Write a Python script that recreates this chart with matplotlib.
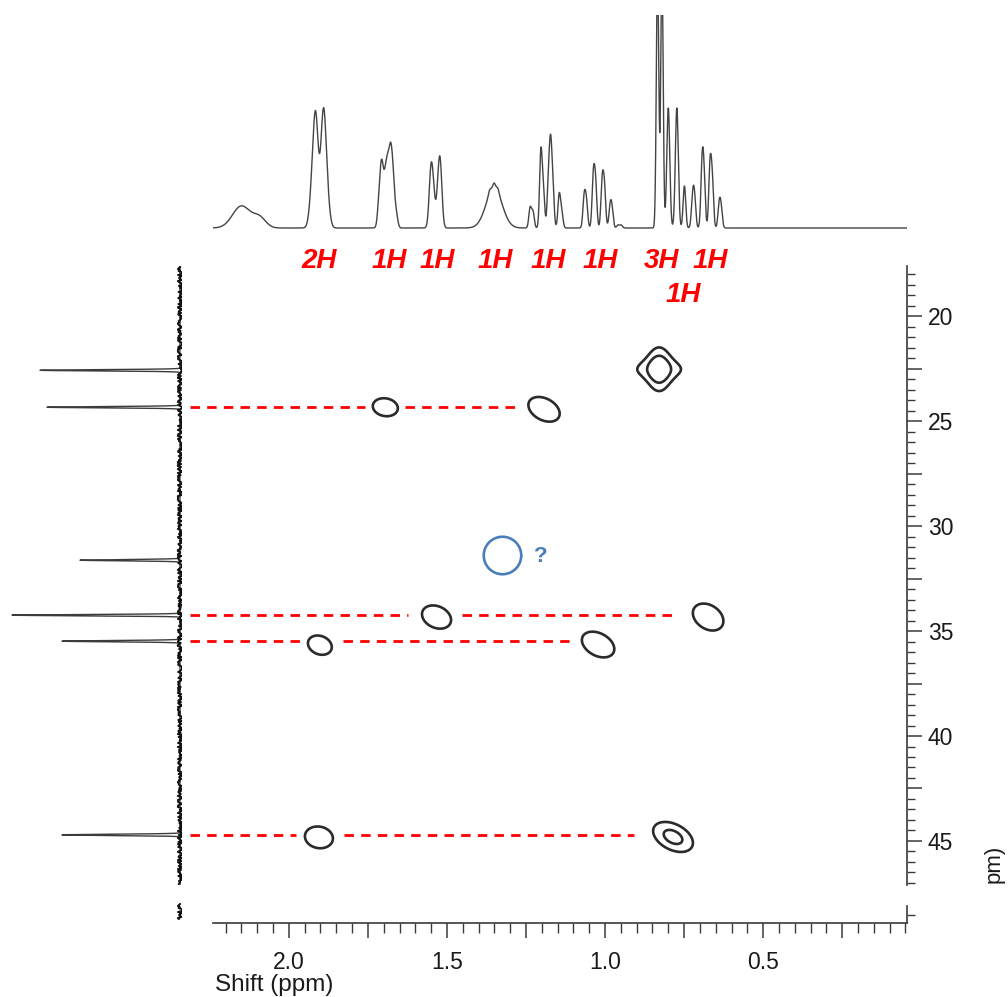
import numpy as np
import matplotlib
matplotlib.use("Agg")
import matplotlib.pyplot as plt
from matplotlib.ticker import MultipleLocator, FuncFormatter
from matplotlib.transforms import blended_transform_factory

plt.rcParams['font.family'] = ['Liberation Sans', 'DejaVu Sans']

# ---------------- data ----------------
# 1H projection (top): line positions (ppm), heights, Gaussian widths (ppm)
h1_ppm = [2.150, 2.093,
          1.927, 1.915, 1.891, 1.879,
          1.714, 1.706, 1.696, 1.688, 1.679, 1.671, 1.661,
          1.551, 1.543, 1.528, 1.521,
          1.351, 1.365, 1.351, 1.339,
          1.237, 1.228, 1.203, 1.195, 1.179, 1.172, 1.165, 1.145, 1.137,
          1.066, 1.059, 1.037, 1.030, 1.009, 1.002, 0.984, 0.978, 0.959, 0.949,
          0.834, 0.820, 0.800, 0.773, 0.749, 0.723, 0.717, 0.693, 0.687,
          0.668, 0.661, 0.639, 0.633]
h1_height = [22, 10,
             30, 105, 110, 25,
             28, 55, 38, 50, 62, 45, 14,
             52, 30, 30, 55,
             40, 4, 5, 4,
             20, 16, 75, 35, 45, 75, 35, 33, 15,
             30, 25, 50, 42, 45, 38, 20, 17, 3, 3,
             260, 260, 120, 120, 42, 28, 28, 60, 45,
             60, 45, 22, 18]
h1_width = [0.028, 0.020,
            0.0082, 0.0082, 0.0082, 0.0082,
            0.0051, 0.0051, 0.0051, 0.0051, 0.0051, 0.0051, 0.0051,
            0.0057, 0.0057, 0.0057, 0.0057,
            0.025, 0.004, 0.004, 0.004,
            0.0041, 0.0041, 0.0041, 0.0041, 0.0041, 0.0041, 0.0041, 0.0041, 0.0041,
            0.0041, 0.0041, 0.0041, 0.0041, 0.0041, 0.0041, 0.0041, 0.0041, 0.0041, 0.0041,
            0.0038, 0.0038, 0.0047, 0.0047, 0.0041, 0.0041, 0.0041, 0.0041, 0.0041,
            0.0041, 0.0041, 0.0041, 0.0041]

# integration labels
int_labels = ["2H", "1H", "1H", "1H", "1H", "1H", "3H", "1H"]
int_label_ppm = [1.905, 1.684, 1.532, 1.348, 1.180, 1.016, 0.823, 0.668]
extra_label = "1H"
extra_label_ppm = 0.753

# 13C projection (left): shifts (ppm) and intensities
c13_ppm = [22.57, 24.33, 31.62, 34.24, 35.48, 44.71]
c13_int = [140, 133, 100, 168, 118, 118]

# HSQC cross peaks: 1H ppm, 13C ppm, amplitude, widths (ppm), tilt correlation
hsqc_h = [1.695, 1.193, 0.829, 0.829, 1.533, 0.674, 1.902, 1.022, 1.905, 0.785]
hsqc_c = [24.33, 24.43, 22.52, 22.52, 34.33, 34.33, 35.67, 35.64, 44.83, 44.81]
hsqc_amp = [0.72, 0.72, 1.0, 0.55, 0.72, 0.72, 0.72, 0.72, 0.72, 1.0]
hsqc_sh = [0.0336, 0.042, 0.0253, 0.0696, 0.039, 0.041, 0.032, 0.0435, 0.0376, 0.0440]
hsqc_sc = [0.364, 0.50, 0.714, 0.381, 0.470, 0.545, 0.390, 0.520, 0.440, 0.50]
hsqc_rho = [-0.12, -0.35, 0.0, 0.0, -0.25, -0.3, -0.2, -0.35, -0.1, -0.4]
contour_levels = [0.36, 0.8]

# red correlation guide lines: 13C ppm and 1H ppm segments
guide_c = [24.33, 34.24, 35.48, 44.71]
guide_segments = [[(2.313, 1.759), (1.633, 1.269)],
                  [(2.313, 1.623), (1.453, 0.772)],
                  [(2.313, 1.965), (1.829, 1.101)],
                  [(2.313, 1.978), (1.826, 0.908)]]

# unknown marker
q_h, q_c = 1.326, 31.38
q_text_h, q_text_c = 1.204, 31.43

# axis ranges
h_lim = (2.24, 0.045)
c_lim = (47.1, 17.6)

# ---------------- figure ----------------
W, H = 1008, 997
fig = plt.figure(figsize=(W / 100, H / 100), dpi=100)


def px_axes(x0, y0, x1, y1):
    return fig.add_axes([x0 / W, 1 - y1 / H, (x1 - x0) / W, (y1 - y0) / H])


axis_col = '#3a3a3a'

# --- top 1H projection ---
ax_top = px_axes(213, 15, 907, 231)
hx = np.linspace(h_lim[0], h_lim[1], 8000)
spec = np.zeros_like(hx)
for p, hh, w in zip(h1_ppm, h1_height, h1_width):
    spec += hh * np.exp(-0.5 * ((hx - p) / w) ** 2)
ax_top.plot(hx, spec, color='#444444', lw=1.0)
ax_top.set_xlim(*h_lim)
ax_top.set_ylim(-3, 213)
ax_top.axis('off')

trans = blended_transform_factory(ax_top.transData, fig.transFigure)
for lab, p in zip(int_labels, int_label_ppm):
    fig.text(p, 1 - 261 / H, lab, transform=trans, ha='center', va='center',
             color='#ff0000', fontsize=20, fontweight='bold', fontstyle='italic')
fig.text(extra_label_ppm, 1 - 295 / H, extra_label, transform=trans, ha='center',
         va='center', color='#ff0000', fontsize=20, fontweight='bold', fontstyle='italic')

# --- left 13C projection ---
ax_left = px_axes(5, 266, 182, 885)
cy = np.linspace(c_lim[1], c_lim[0], 20000)
cspec = np.zeros_like(cy)
for p, ii in zip(c13_ppm, c13_int):
    cspec += ii * np.exp(-0.5 * ((cy - p) / 0.03) ** 2)
ax_left.plot(cspec, cy, color='#3c3c3c', lw=1.0)
base, = ax_left.plot([0, 0], [c_lim[1] + 0.05, c_lim[0] - 0.05], color='#111111', lw=1.4)
base.set_sketch_params(scale=2.2, length=3, randomness=4)
ax_left.set_xlim(175, -2)
ax_left.set_ylim(*c_lim)
ax_left.axis('off')

ax_left2 = px_axes(5, 903, 182, 920)
base2, = ax_left2.plot([0, 0], [0, 1], color='#111111', lw=1.4)
base2.set_sketch_params(scale=2.2, length=3, randomness=4)
ax_left2.set_xlim(175, -2)
ax_left2.set_ylim(1.05, -0.05)
ax_left2.axis('off')

# --- main HSQC plane ---
ax = px_axes(213, 266, 907, 885)
gh = np.linspace(h_lim[0], h_lim[1], 1400)
gc = np.linspace(c_lim[1], c_lim[0], 1300)
GH, GC = np.meshgrid(gh, gc)
Z = np.zeros_like(GH)
for h0, c0, a, sh, sc, r in zip(hsqc_h, hsqc_c, hsqc_amp, hsqc_sh, hsqc_sc, hsqc_rho):
    dx = (GH - h0) / sh
    dy = (GC - c0) / sc
    Z += a * np.exp(-(dx ** 2 + dy ** 2 - 2 * r * dx * dy) / (2 * (1 - r ** 2)))
ax.contour(GH, GC, Z, levels=contour_levels, colors='#2b2b2b', linewidths=1.9)

for c0, segs in zip(guide_c, guide_segments):
    for (a, b) in segs:
        ax.plot([a, b], [c0, c0], color='#ff0000', lw=2.0,
                linestyle=(0, (3.4, 2.6)), clip_on=False,
                dash_capstyle='butt')

ax.plot([q_h], [q_c], marker='o', ms=27, mfc='none', mec='#4a7ebb', mew=1.9)
ax.text(q_text_h, q_text_c, '?', color='#4a7ebb', fontsize=16, fontweight='bold',
        ha='center', va='center')

ax.set_xlim(*h_lim)
ax.set_ylim(*c_lim)
for s in ['top', 'left', 'bottom']:
    ax.spines[s].set_visible(False)
ax.spines['right'].set_color(axis_col)
ax.spines['right'].set_linewidth(1.2)
ax.set_xticks([])
ax.yaxis.tick_right()
ax.yaxis.set_major_locator(MultipleLocator(2.5))
ax.yaxis.set_minor_locator(MultipleLocator(0.5))
ax.yaxis.set_major_formatter(FuncFormatter(
    lambda v, pos: f"{v:.0f}" if abs(v / 5 - round(v / 5)) < 1e-6 else ""))
ax.tick_params(axis='y', which='major', length=11, width=1.1, color=axis_col,
               labelsize=16.5, pad=4, direction='out', labelcolor='#1a1a1a')
ax.tick_params(axis='y', which='minor', length=6, width=1.0, color=axis_col,
               direction='out')
ax.patch.set_alpha(0)

# --- bottom scale strip ---
axb = px_axes(213, 906, 907, 923)
axb.set_xlim(*h_lim)
axb.set_ylim(48.9, 48.08)
for s in ['top', 'left']:
    axb.spines[s].set_visible(False)
for s in ['right', 'bottom']:
    axb.spines[s].set_color(axis_col)
    axb.spines[s].set_linewidth(1.2)
axb.yaxis.tick_right()
axb.yaxis.set_major_locator(MultipleLocator(2.5))
axb.yaxis.set_minor_locator(MultipleLocator(0.5))
axb.yaxis.set_major_formatter(FuncFormatter(lambda v, pos: ""))
axb.tick_params(axis='y', which='both', length=6, width=1.0, color=axis_col)
axb.xaxis.set_major_locator(MultipleLocator(0.25))
axb.xaxis.set_minor_locator(MultipleLocator(0.05))
axb.xaxis.set_major_formatter(FuncFormatter(
    lambda v, pos: f"{v:.1f}" if abs(v / 0.5 - round(v / 0.5)) < 1e-6 else ""))
axb.tick_params(axis='x', which='major', length=11, width=1.1, color=axis_col,
                labelsize=16.5, pad=9, labelcolor='#1a1a1a')
axb.tick_params(axis='x', which='minor', length=7, width=1.0, color=axis_col)
axb.patch.set_alpha(0)

fig.text(215 / W, 1 - 985 / H, 'Shift (ppm)', ha='left', va='center', fontsize=17.5,
         color='#1a1a1a')
fig.text(994 / W, 1 - 864 / H, 'pm)', ha='center', va='center', rotation=90,
         fontsize=16, color='#1a1a1a')

fig.savefig('out.png', dpi=100)
